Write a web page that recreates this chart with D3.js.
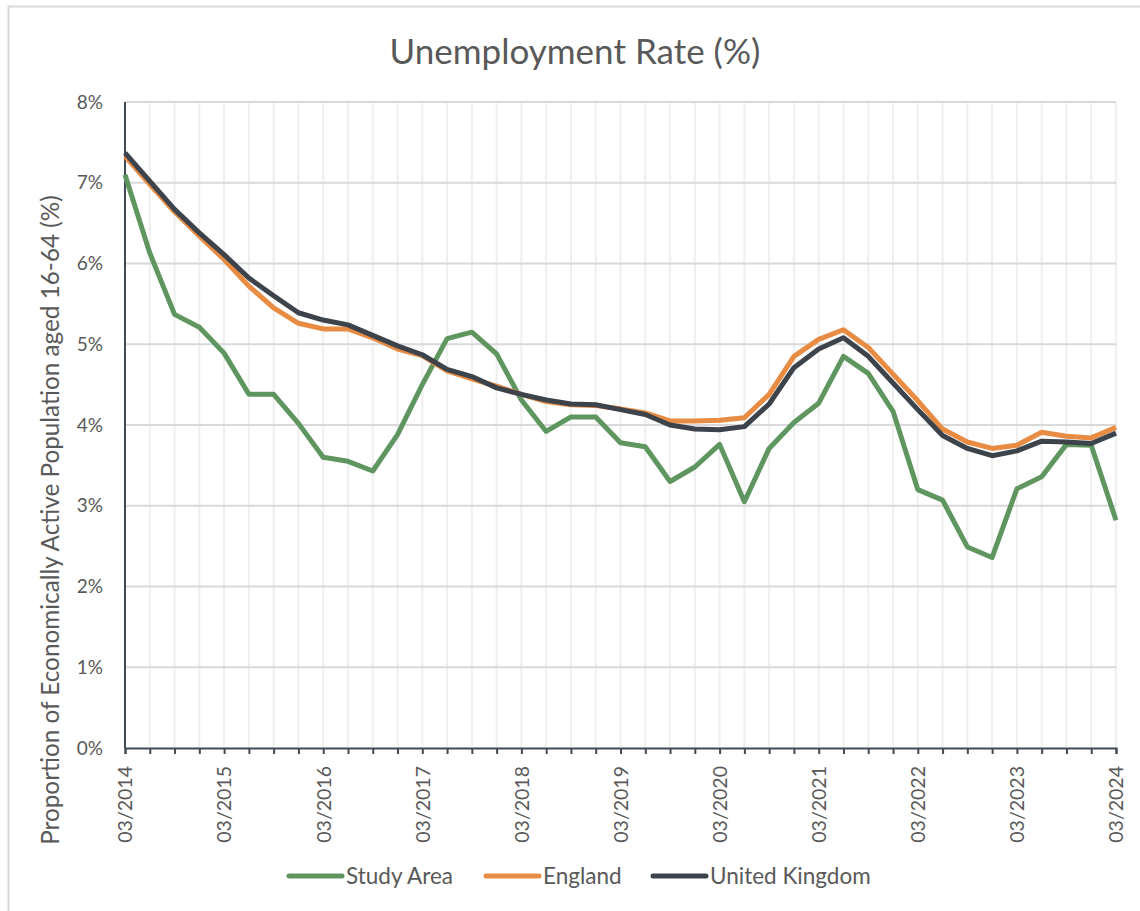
<!DOCTYPE html>
<html>
<head>
<meta charset="utf-8">
<script src="https://cdn.jsdelivr.net/npm/d3@7"></script>
<style>
  body { margin: 0; background: #fff; }
  svg { display: block; font-family: Lato, "Open Sans", sans-serif; }
</style>
</head>
<body>
<div id="chart"></div>
<script>
// Quarterly periods 03/2014 .. 03/2024
const periods = [
    '03/2014', '06/2014', '09/2014', '12/2014',
    '03/2015', '06/2015', '09/2015', '12/2015',
    '03/2016', '06/2016', '09/2016', '12/2016',
    '03/2017', '06/2017', '09/2017', '12/2017',
    '03/2018', '06/2018', '09/2018', '12/2018',
    '03/2019', '06/2019', '09/2019', '12/2019',
    '03/2020', '06/2020', '09/2020', '12/2020',
    '03/2021', '06/2021', '09/2021', '12/2021',
    '03/2022', '06/2022', '09/2022', '12/2022',
    '03/2023', '06/2023', '09/2023', '12/2023',
    '03/2024'
];

const studyArea = [
    7.10, 6.13, 5.37, 5.21, 4.89, 4.38, 4.38, 4.02, 3.60, 3.55,
    3.43, 3.88, 4.50, 5.07, 5.15, 4.88, 4.31, 3.92, 4.10, 4.10,
    3.78, 3.73, 3.30, 3.48, 3.76, 3.05, 3.71, 4.03, 4.27, 4.85,
    4.64, 4.17, 3.20, 3.07, 2.49, 2.36, 3.21, 3.36, 3.76, 3.75,
    2.82
];

const england = [
    7.33, 6.98, 6.64, 6.34, 6.05, 5.72, 5.45, 5.26, 5.19, 5.19,
    5.08, 4.94, 4.86, 4.67, 4.57, 4.48, 4.38, 4.29, 4.25, 4.24,
    4.20, 4.15, 4.05, 4.05, 4.06, 4.09, 4.38, 4.85, 5.06, 5.18,
    4.96, 4.63, 4.30, 3.95, 3.79, 3.71, 3.75, 3.91, 3.86, 3.84,
    3.97
];

const unitedKingdom = [
    7.37, 7.02, 6.67, 6.38, 6.11, 5.82, 5.60, 5.39, 5.30, 5.24,
    5.11, 4.98, 4.87, 4.69, 4.60, 4.46, 4.38, 4.31, 4.26, 4.25,
    4.19, 4.13, 4.00, 3.95, 3.94, 3.98, 4.26, 4.71, 4.94, 5.08,
    4.85, 4.52, 4.19, 3.87, 3.71, 3.62, 3.68, 3.80, 3.79, 3.77,
    3.90
];

const yTicks = [0, 1, 2, 3, 4, 5, 6, 7, 8];

const series = [
    { name: 'Study Area', values: studyArea, color: '#5f9660' },
    { name: 'England', values: england, color: '#e88b43' },
    { name: 'United Kingdom', values: unitedKingdom, color: '#3d434b' }
];

const width = 1140;
const height = 911;
const margin = { top: 102, right: 24, bottom: 163, left: 125 };

const svg = d3.select('#chart')
    .append('svg')
    .attr('width', width)
    .attr('height', height);

// chart frame
svg.append('rect')
    .attr('x', 8.5)
    .attr('y', 6.5)
    .attr('width', 1160)
    .attr('height', 940)
    .style('fill', '#fff')
    .style('stroke', '#d9d9d9')
    .style('stroke-width', '2px');

const x = d3.scalePoint()
    .domain(periods)
    .range([margin.left, width - margin.right]);

const y = d3.scaleLinear()
    .domain([0, 8])
    .range([height - margin.bottom, margin.top]);

// vertical gridlines (each quarter)
svg.append('g')
    .selectAll('line')
    .data(periods.slice(1))
    .enter()
    .append('line')
    .attr('x1', d => x(d))
    .attr('x2', d => x(d))
    .attr('y1', y(0))
    .attr('y2', y(8))
    .style('stroke', '#efefef')
    .style('stroke-width', '2px');

// horizontal gridlines
svg.append('g')
    .selectAll('line')
    .data(yTicks.slice(1))
    .enter()
    .append('line')
    .attr('x1', x.range()[0])
    .attr('x2', x.range()[1])
    .attr('y1', d => y(d))
    .attr('y2', d => y(d))
    .style('stroke', '#d9d9d9')
    .style('stroke-width', '2px');

// y axis labels
svg.append('g')
    .selectAll('text')
    .data(yTicks)
    .enter()
    .append('text')
    .attr('x', 103)
    .attr('y', d => y(d))
    .attr('dy', '0.35em')
    .attr('text-anchor', 'end')
    .text(d => d + '%')
    .style('fill', '#595959')
    .style('font-size', '19px');

// x axis
const xAxis = d3.axisBottom(x)
    .tickSize(6)
    .tickFormat(d => d.startsWith('03/') ? d : '');

const xg = svg.append('g')
    .attr('transform', `translate(0, ${y(0)})`)
    .call(xAxis);

xg.select('.domain')
    .style('stroke', '#404a54')
    .style('stroke-width', '2px');

xg.selectAll('.tick line')
    .style('stroke', '#404a54')
    .style('stroke-width', '2px');

xg.selectAll('.tick text')
    .attr('transform', 'rotate(-90)')
    .attr('x', -18)
    .attr('y', 0)
    .attr('dy', '0.35em')
    .attr('text-anchor', 'end')
    .style('fill', '#595959')
    .style('font-size', '19.5px')
    .style('font-family', 'Lato, "Open Sans", sans-serif');

// y axis line
svg.append('line')
    .attr('x1', x.range()[0])
    .attr('x2', x.range()[0])
    .attr('y1', y(0))
    .attr('y2', y(8))
    .style('stroke', '#404a54')
    .style('stroke-width', '2px');

// series lines
const line = d3.line()
    .x((d, i) => x(periods[i]))
    .y(d => y(d));

svg.append('g')
    .selectAll('path')
    .data(series)
    .enter()
    .append('path')
    .attr('d', d => line(d.values))
    .style('fill', 'none')
    .style('stroke', d => d.color)
    .style('stroke-width', '5px')
    .style('stroke-linejoin', 'round');

// title
svg.append('text')
    .attr('x', 575)
    .attr('y', 64)
    .attr('text-anchor', 'middle')
    .text('Unemployment Rate (%)')
    .style('fill', '#595959')
    .style('font-size', '35px');

// y axis title
svg.append('text')
    .attr('transform', 'translate(50, 520) rotate(-90)')
    .attr('dy', '0.35em')
    .attr('text-anchor', 'middle')
    .text('Proportion of Economically Active Population aged 16-64 (%)')
    .style('fill', '#595959')
    .style('font-size', '24.3px');

// legend
const legendX = [289, 486, 653];
const legend = svg.append('g')
    .selectAll('g')
    .data(series)
    .enter()
    .append('g')
    .attr('transform', (d, i) => `translate(${legendX[i]}, 876)`);

legend.append('line')
    .attr('x1', 0)
    .attr('x2', 53)
    .style('stroke', d => d.color)
    .style('stroke-width', '5px')
    .style('stroke-linecap', 'round');

legend.append('text')
    .attr('x', 57)
    .attr('dy', '0.35em')
    .text(d => d.name)
    .style('fill', '#595959')
    .style('font-size', '22.5px');
</script>
</body>
</html>
